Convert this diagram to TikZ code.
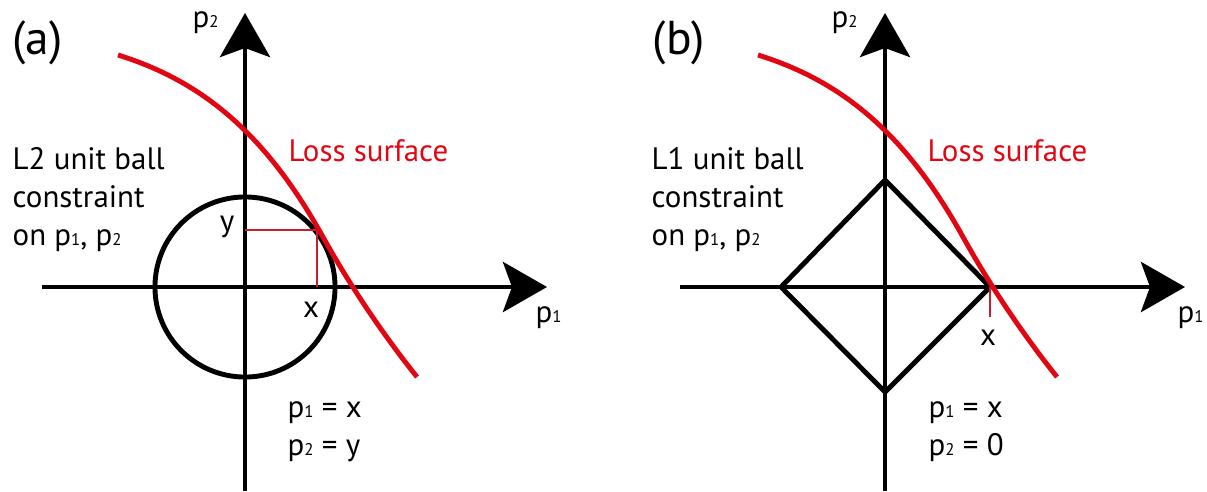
\documentclass[tikz,border=0pt]{standalone}
\usepackage{fontspec}
\setmainfont{PT Sans}
\usetikzlibrary{arrows.meta}
\definecolor{lossred}{RGB}{226,6,19}
\definecolor{projred}{RGB}{200,30,45}
\newcommand{\ix}[1]{{\fontsize{4.8pt}{5pt}\selectfont #1}}

\begin{document}
\begin{tikzpicture}[
    x=0.01cm, y=-0.01cm,
    axis/.style={line width=1.4pt, -{Stealth[length=0.44cm, width=0.5cm, inset=0.09cm]}},
    ball/.style={line width=1.4pt},
    loss/.style={draw=lossred, line width=1.4pt},
    proj/.style={draw=projred, line width=0.6pt},
    txt/.style={inner sep=0pt, anchor=base west, font=\fontsize{8.8pt}{10.7pt}\selectfont},
    panel/.style={inner sep=0pt, anchor=base west, font=\fontsize{13.5pt}{15pt}\selectfont}
]
    \useasboundingbox (0,0) rectangle (1207,491);

    % (a) L2 unit ball
    \coordinate (oa) at (245,287);
    \draw[axis] (245,491) -- (245,13);
    \draw[axis] (42,287) -- (547,287);
    \draw[ball] (oa) circle [radius=0.9cm];
    \coordinate (ta) at (317,230);
    \draw[proj] (oa |- ta) -- (ta) -- (ta |- oa);
    \draw[loss] (118,55) .. controls (198,80) and (263,129) .. (323,237) .. controls (353,291) and (387,339.5) .. (417,377);

    \node[panel] (capa) at (12,55) {(a)};
    \node[txt] (p2a) at (192,28) {p\ix{2}};
    \node[txt] (p1a) at (535,322) {p\ix{1}};
    \node[txt, align=left] (l2) at (12,245) {L2 unit ball\\constraint\\on p\ix{1}, p\ix{2}};
    \node[txt, text=lossred] (lossa) at (288,162) {Loss surface};
    \node[txt, anchor=base] (ya) at (227,231) {y};
    \node[txt, anchor=base] (xa) at (311,317) {x};
    \node[txt, align=left] (sola) at (287,455) {p\ix{1} = x\\p\ix{2} = y};

    % (b) L1 unit ball
    \coordinate (ob) at (885,287);
    \draw[axis] (885,491) -- (885,13);
    \draw[axis] (680,287) -- (1185,287);
    \draw[ball] (781,287) -- (885,180) -- (990,287) -- (885,392) -- cycle;
    \coordinate (tb) at (990,287);
    \draw[proj] (tb) -- ++(0,30);
    \begin{scope}[shift={(640,0)}]
        \draw[loss] (118,55) .. controls (198,80) and (263,129) .. (323,237) .. controls (353,291) and (387,339.5) .. (417,377);
    \end{scope}

    \node[panel] (capb) at (652,55) {(b)};
    \node[txt] (p2b) at (831,28) {p\ix{2}};
    \node[txt] (p1b) at (1177,322) {p\ix{1}};
    \node[txt, align=left] (l1) at (651,245) {L1 unit ball\\constraint\\on p\ix{1}, p\ix{2}};
    \node[txt, text=lossred] (lossb) at (927,162) {Loss surface};
    \node[txt, anchor=base] (xb) at (988,345) {x};
    \node[txt, align=left] (solb) at (928,455) {p\ix{1} = x\\p\ix{2} = 0};
\end{tikzpicture}
\end{document}
